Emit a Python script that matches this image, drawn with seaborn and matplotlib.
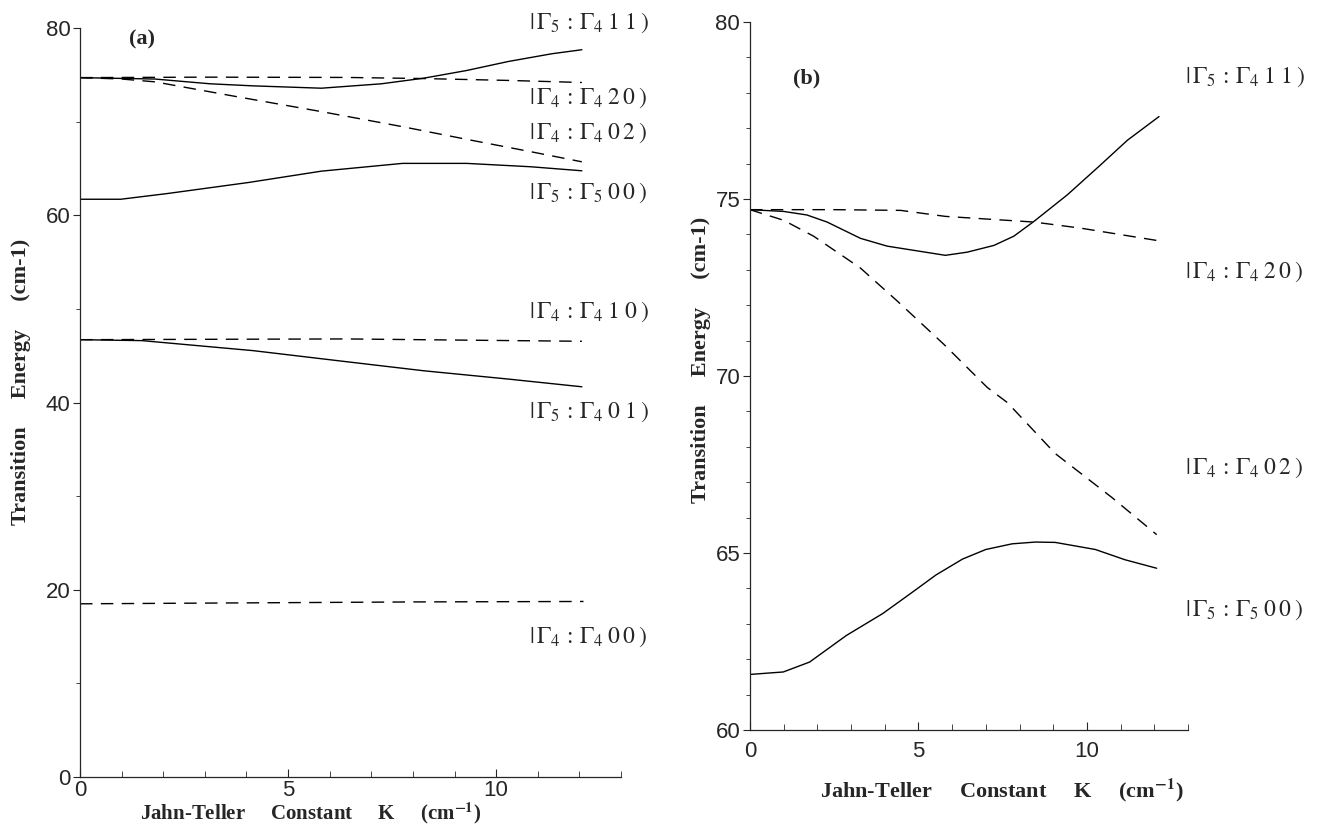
import numpy as np
import pandas as pd
import seaborn as sns
import matplotlib.pyplot as plt
from matplotlib.ticker import MultipleLocator

# ---- panel (a) data ----
a_k_11 = [0, 1.8, 3.13, 4.16, 5.8, 7.24, 8.26, 9.29, 10.3, 11.34, 12.06]
a_e_11 = [74.7, 74.55, 74.04, 73.82, 73.57, 74.04, 74.64, 75.46, 76.43, 77.25, 77.68]
a_k_20 = [0, 3.0, 6.4, 8.26, 10.3, 12.06]
a_e_20 = [74.7, 74.75, 74.72, 74.6, 74.4, 74.18]
a_k_02 = [0, 1.0, 1.8, 3.75, 5.8, 7.75, 9.29, 10.83, 12.06]
a_e_02 = [74.7, 74.55, 74.25, 72.68, 71.07, 69.46, 68.11, 66.79, 65.71]
a_k_00s = [0, 0.98, 2.1, 4.05, 5.8, 7.75, 9.29, 10.83, 12.06]
a_e_00s = [61.71, 61.71, 62.32, 63.5, 64.71, 65.54, 65.54, 65.18, 64.75]
a_k_10 = [0, 3.0, 6.4, 9.5, 12.06]
a_e_10 = [46.71, 46.75, 46.79, 46.65, 46.54]
a_k_01 = [0, 1.49, 4.16, 6.21, 8.26, 10.3, 12.06]
a_e_01 = [46.71, 46.61, 45.54, 44.46, 43.39, 42.5, 41.68]
a_k_00 = [0, 4.0, 8.0, 12.1]
a_e_00 = [18.5, 18.6, 18.7, 18.75]

# ---- panel (b) data ----
b_k_11 = [0, 1.0, 1.69, 2.29, 3.28, 4.07, 5.8, 6.45, 7.24, 7.83, 8.43, 9.42, 10.4, 11.2, 12.14]
b_e_11 = [74.7, 74.65, 74.55, 74.35, 73.89, 73.67, 73.41, 73.5, 73.69, 73.95, 74.37, 75.12, 75.96, 76.66, 77.33]
b_k_20 = [0, 2.5, 4.47, 5.8, 8.43, 9.8, 12.14]
b_e_20 = [74.7, 74.7, 74.68, 74.51, 74.35, 74.18, 73.82]
b_k_02 = [0, 1.0, 1.89, 3.28, 4.37, 5.75, 7.04, 7.64, 9.06, 10.74, 12.07]
b_e_02 = [74.7, 74.4, 73.95, 73.05, 72.12, 70.9, 69.68, 69.25, 67.81, 66.57, 65.52]
b_k_00 = [0, 0.99, 1.77, 2.86, 3.94, 4.83, 5.52, 6.31, 7.0, 7.78, 8.47, 9.06, 10.25, 11.13, 12.07]
b_e_00 = [61.57, 61.64, 61.92, 62.67, 63.29, 63.9, 64.38, 64.83, 65.1, 65.26, 65.31, 65.3, 65.1, 64.81, 64.57]

def lbl(g1, g2, n):
    return r"$|\,\Gamma_{%s}\,:\,\Gamma_{%s}\;%s\;)$" % (g1, g2, n)

# label text and positions
a_labels = [lbl(5, 4, "1\\;1"), lbl(4, 4, "2\\,0"), lbl(4, 4, "0\\,2"), lbl(5, 5, "0\\,0"),
            lbl(4, 4, "1\\;0"), lbl(5, 4, "0\\;1"), lbl(4, 4, "0\\,0")]
a_label_y = [80.6, 72.5, 68.8, 62.4, 49.7, 39.0, 15.0]
b_labels = [lbl(5, 4, "1\\;1"), lbl(4, 4, "2\\,0"), lbl(4, 4, "0\\,2"), lbl(5, 5, "0\\,0")]
b_label_y = [78.45, 72.95, 67.4, 63.4]

sns.set_style("ticks")
plt.rcParams['font.family'] = ['Liberation Sans', 'DejaVu Sans']
plt.rcParams['mathtext.fontset'] = 'stix'

fig = plt.figure(figsize=(13.38, 8.26), dpi=100)
ax1 = fig.add_axes([0.0598, 0.0593, 0.4043, 0.9068])
ax2 = fig.add_axes([0.5605, 0.1162, 0.3274, 0.8571])

dash = (9, 6)
kw = dict(color='black', linewidth=1.0, sort=False, estimator=None)

sns.lineplot(x=a_k_11, y=a_e_11, ax=ax1, **kw)
sns.lineplot(x=a_k_20, y=a_e_20, ax=ax1, **kw).lines[-1].set_dashes(dash)
sns.lineplot(x=a_k_02, y=a_e_02, ax=ax1, **kw).lines[-1].set_dashes(dash)
sns.lineplot(x=a_k_00s, y=a_e_00s, ax=ax1, **kw)
sns.lineplot(x=a_k_10, y=a_e_10, ax=ax1, **kw).lines[-1].set_dashes(dash)
sns.lineplot(x=a_k_01, y=a_e_01, ax=ax1, **kw)
sns.lineplot(x=a_k_00, y=a_e_00, ax=ax1, **kw).lines[-1].set_dashes(dash)

sns.lineplot(x=b_k_11, y=b_e_11, ax=ax2, **kw)
sns.lineplot(x=b_k_20, y=b_e_20, ax=ax2, **kw).lines[-1].set_dashes(dash)
sns.lineplot(x=b_k_02, y=b_e_02, ax=ax2, **kw).lines[-1].set_dashes(dash)
sns.lineplot(x=b_k_00, y=b_e_00, ax=ax2, **kw)

serif = ['Liberation Serif', 'DejaVu Serif']
for t, y in zip(a_labels, a_label_y):
    ax1.text(10.8, y, t, fontsize=17, family=serif, va='center', ha='left', clip_on=False)
for t, y in zip(b_labels, b_label_y):
    ax2.text(12.9, y, t, fontsize=17, family=serif, va='center', ha='left', clip_on=False)

ax1.text(1.18, 78.74, "(a)", fontsize=16, family=serif, weight='bold', va='center', ha='left')
ax2.text(1.27, 78.4, "(b)", fontsize=16, family=serif, weight='bold', va='center', ha='left')

xlab = r"Jahn-Teller     Constant     K     (cm$^{\mathbf{-1}}$)"
ylab = "Transition     Energy     (cm-1)"

ax1.set_xlim(0, 13)
ax1.set_ylim(0, 80)
ax1.xaxis.set_major_locator(MultipleLocator(5))
ax1.xaxis.set_minor_locator(MultipleLocator(1))
ax1.yaxis.set_major_locator(MultipleLocator(20))
ax1.yaxis.set_minor_locator(MultipleLocator(10))
ax1.set_xlabel(xlab, fontsize=15, family=serif, weight='bold')
ax1.set_ylabel(ylab, fontsize=16, family=serif, weight='bold')
ax1.xaxis.set_label_coords(0.427, -0.031)
ax1.yaxis.set_label_coords(-0.09, 0.527)

ax2.set_xlim(0, 13)
ax2.set_ylim(60, 80)
ax2.xaxis.set_major_locator(MultipleLocator(5))
ax2.xaxis.set_minor_locator(MultipleLocator(1))
ax2.yaxis.set_major_locator(MultipleLocator(5))
ax2.yaxis.set_minor_locator(MultipleLocator(1))
ax2.set_xlabel(xlab, fontsize=16, family=serif, weight='bold')
ax2.set_ylabel(ylab, fontsize=16, family=serif, weight='bold')
ax2.xaxis.set_label_coords(0.575, -0.066)
ax2.yaxis.set_label_coords(-0.088, 0.5226)

for ax, pad in ((ax1, 2.5), (ax2, 8)):
    sns.despine(ax=ax)
    ax.spines['left'].set_linewidth(0.9)
    ax.spines['bottom'].set_linewidth(0.9)
    ax.tick_params(axis='x', which='both', direction='in', labelsize=16, pad=pad)
    ax.tick_params(axis='x', which='major', length=6)
    ax.tick_params(axis='x', which='minor', length=4)
    ax.tick_params(axis='y', which='both', direction='out', labelsize=16, pad=2)
    ax.tick_params(axis='y', which='major', length=5)
    ax.tick_params(axis='y', which='minor', length=3)

fig.savefig("out.png", dpi=100)
